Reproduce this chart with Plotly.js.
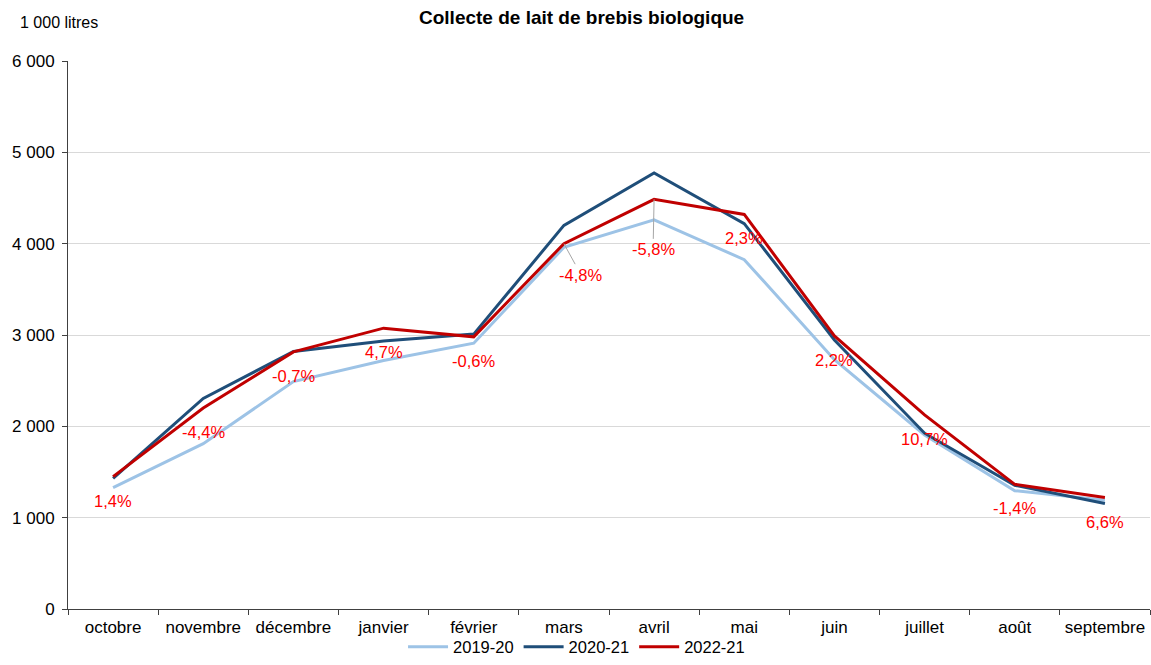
<!DOCTYPE html>
<html><head><meta charset="utf-8">
<script src="https://cdn.plot.ly/plotly-3.0.1.min.js"></script>
<style>html,body{margin:0;padding:0;background:#fff}#chart{width:1151px;height:665px}</style>
</head><body><div id="chart"></div>
<script>
const months = ["octobre","novembre","décembre","janvier","février","mars","avril","mai","juin","juillet","août","septembre"];
const s2019_20 = [1330,1810,2490,2720,2910,3960,4260,3825,2730,1905,1295,1190];
const s2020_21 = [1430,2305,2820,2935,3010,4200,4775,4220,2945,1925,1355,1155];
const s2022_21 = [1450,2200,2815,3075,2980,4000,4485,4320,2990,2125,1365,1220];
const pctLabels = ["1,4%","-4,4%","-0,7%","4,7%","-0,6%","-4,8%","-5,8%","2,3%","2,2%","10,7%","-1,4%","6,6%"];

const font = "Liberation Sans, Arial, sans-serif";
const traces = [
  {name:"2019-20", x:months, y:s2019_20, type:"scatter", mode:"lines", line:{color:"#9DC3E6", width:3}},
  {name:"2020-21", x:months, y:s2020_21, type:"scatter", mode:"lines", line:{color:"#1F4E79", width:3}},
  {name:"2022-21", x:months, y:s2022_21, type:"scatter", mode:"lines", line:{color:"#C00000", width:3}}
];

const anns = pctLabels.map((t,i)=>{
  const a = {x:months[i], y:s2022_21[i], xref:"x", yref:"y", text:t, font:{family:font,size:16.5,color:"#FF0000"}, xanchor:"center", yanchor:"middle"};
  if (i===5) { Object.assign(a,{showarrow:true, arrowhead:0, arrowwidth:1, arrowcolor:"#A6A6A6", ax:17, ay:31}); }
  else if (i===6) { Object.assign(a,{showarrow:true, arrowhead:0, arrowwidth:1, arrowcolor:"#A6A6A6", ax:-1, ay:50}); }
  else { Object.assign(a,{showarrow:false, yshift:-24}); }
  return a;
});
anns.push({text:"1 000 litres", xref:"paper", yref:"paper", x:-0.0462, y:1.071, xanchor:"left", yanchor:"middle", showarrow:false, font:{family:font,size:16,color:"#000"}});
anns.push({text:"<b>Collecte de lait de brebis biologique</b>", xref:"paper", yref:"paper", x:0.475, y:1.08, xanchor:"center", yanchor:"middle", showarrow:false, font:{family:font,size:19,color:"#000"}});

const layout = {
  width:1151, height:665,
  margin:{l:68, r:1, t:61, b:56, autoexpand:false},
  paper_bgcolor:"#fff", plot_bgcolor:"#fff",
  separators:", ",
  font:{family:font, size:16, color:"#000"},
  showlegend:true,
  legend:{orientation:"h", x:0.47, xanchor:"center", y:-0.1015, yanchor:"bottom", font:{family:font,size:16.5,color:"#000"}, itemwidth:40, tracegroupgap:0, bgcolor:"rgba(0,0,0,0)"},
  xaxis:{type:"category", range:[-0.5,11.5], showline:true, linecolor:"#404040", linewidth:1, ticks:"outside", ticklen:5, tickcolor:"#404040", tickson:"boundaries", showgrid:false, zeroline:false, tickfont:{family:font,size:17}, ticklabelstandoff:3},
  yaxis:{range:[0,6000], dtick:1000, tickformat:",d", showline:true, linecolor:"#404040", linewidth:1, ticks:"outside", ticklen:5, tickcolor:"#404040", showgrid:true, gridcolor:"#D9D9D9", gridwidth:1, zeroline:false, tickfont:{family:font,size:17}, ticklabelstandoff:4},
  annotations:anns
};
Plotly.newPlot("chart", traces, layout, {displayModeBar:false, staticPlot:true});
</script></body></html>
